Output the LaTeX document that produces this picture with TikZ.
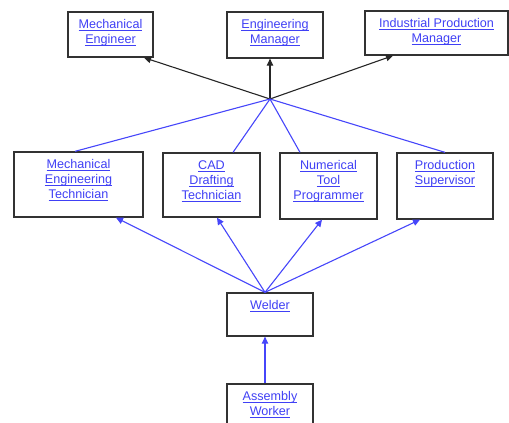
\documentclass[tikz,border=0pt]{standalone}
\usepackage{fontspec}
\setmainfont{Liberation Sans}
\usetikzlibrary{arrows.meta,calc}
\definecolor{linkblue}{RGB}{64,64,245}
\definecolor{lineblue}{RGB}{70,70,250}
\definecolor{boxgray}{RGB}{50,50,50}
\newcommand\ulk[1]{\setbox0\hbox{#1}\rlap{\rule[-2.2pt]{\wd0}{0.75pt}}\copy0}
\tikzset{
  jobbox/.style={draw=boxgray, line width=1.3pt, fill=white, inner sep=0pt},
  jobtxt/.style={anchor=north, inner sep=0pt, yshift=-8pt, align=center, text=linkblue,
    font=\fontsize{12.6pt}{15pt}\selectfont},
  blk/.style={draw=black!85, line width=1.1pt},
  blu/.style={draw=lineblue, line width=1.1pt},
  tip/.style={-{Triangle[length=7pt,width=6.5pt]}}
}
\begin{document}
\begin{tikzpicture}[x=1pt,y=-1pt]
\useasboundingbox (0,0) rectangle (509,423);
\clip (0,0) rectangle (509,423);
% boxes
\node[jobbox, minimum width=85pt, minimum height=45pt] (me) at (110.5,34.5) {};
\node[jobbox, minimum width=96pt, minimum height=46pt] (em) at (275,35) {};
\node[jobbox, minimum width=143pt, minimum height=44pt] (ipm) at (436.5,33) {};
\node[jobbox, minimum width=129pt, minimum height=65pt] (met) at (78.5,184.5) {};
\node[jobbox, minimum width=97pt, minimum height=64pt] (cad) at (211.5,185) {};
\node[jobbox, minimum width=97pt, minimum height=66pt] (ntp) at (328.5,186) {};
\node[jobbox, minimum width=96pt, minimum height=66pt] (ps) at (445,186) {};
\node[jobbox, minimum width=86pt, minimum height=43pt] (wd) at (270,314.5) {};
\node[jobbox, minimum width=86pt, minimum height=50pt] (aw) at (270,409) {};
% texts
\node[jobtxt] (meT) at (me.north) {\ulk{Mechanical}\\\ulk{Engineer}};
\node[jobtxt] (emT) at (em.north) {\ulk{Engineering}\\\ulk{Manager}};
\node[jobtxt] (ipmT) at (ipm.north) {\ulk{Industrial Production}\\\ulk{Manager}};
\node[jobtxt] (metT) at (met.north) {\ulk{Mechanical}\\\ulk{Engineering}\\\ulk{Technician}};
\node[jobtxt] (cadT) at (cad.north) {\ulk{CAD}\\\ulk{Drafting}\\\ulk{Technician}};
\node[jobtxt] (ntpT) at (ntp.north) {\ulk{Numerical}\\\ulk{Tool}\\\ulk{Programmer}};
\node[jobtxt] (psT) at (ps.north) {\ulk{Production}\\\ulk{Supervisor}};
\node[jobtxt] (wdT) at (wd.north) {\ulk{Welder}};
\node[jobtxt] (awT) at (aw.north) {\ulk{Assembly}\\\ulk{Worker}};
% hub
\coordinate (hub) at (270,99);
\coordinate (wtop) at (265,0 |- wd.north);
% black arrows to top row
\draw[blk,tip] (hub) -- (144,0 |- me.south);
\draw[blk,tip] (hub) -- (270,0 |- em.south);
\draw[blk,tip] (hub) -- (393,0 |- ipm.south);
% blue lines from second row to hub
\draw[blu] (hub) -- (75,0 |- met.north);
\draw[blu] (hub) -- (233,0 |- cad.north);
\draw[blu] (hub) -- (300,0 |- ntp.north);
\draw[blu] (hub) -- (445,0 |- ps.north);
% blue arrows from welder
\draw[blu,tip] (wtop) -- (116,0 |- met.south);
\draw[blu,tip] (wtop) -- (217,0 |- cad.south);
\draw[blu,tip] (wtop) -- (322,0 |- ntp.south);
\draw[blu,tip] (wtop) -- (420,0 |- ps.south);
% assembly to welder
\draw[blu,tip] (265,0 |- aw.north) -- (265,0 |- wd.south);
\end{tikzpicture}
\end{document}
